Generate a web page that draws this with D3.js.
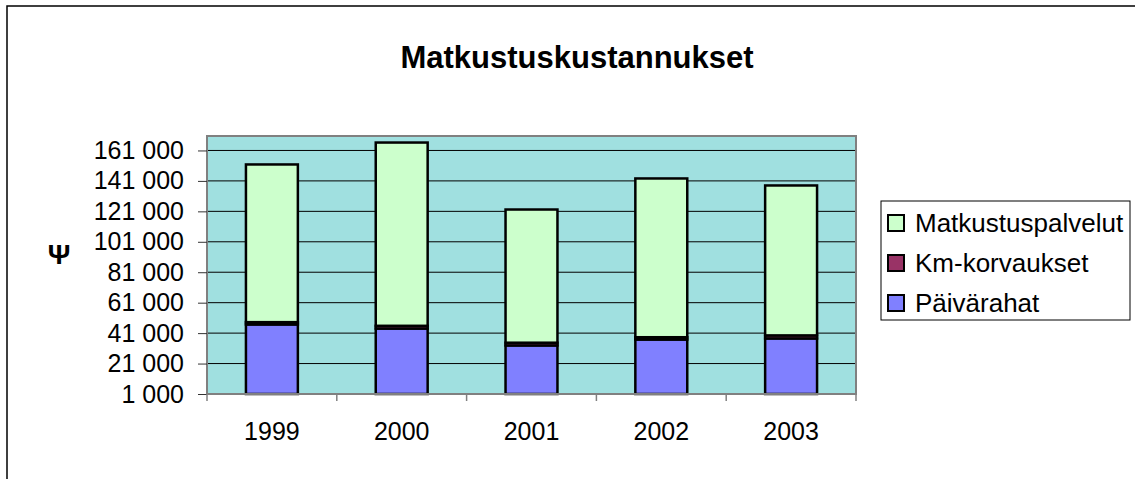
<!DOCTYPE html>
<html>
<head>
<meta charset="utf-8">
<script src="https://cdn.jsdelivr.net/npm/d3@7"></script>
<style>
  body { margin: 0; background: #fff; }
  svg { display: block; font-family: Arial, 'Liberation Sans', sans-serif; }
</style>
</head>
<body>
<svg width="1135" height="479"></svg>
<script>
const years = ['1999', '2000', '2001', '2002', '2003'];
const paivarahat = [46700, 44000, 32900, 36800, 37500];
const kmKorvaukset = [1500, 1800, 1800, 1500, 2000];
const matkustuspalvelut = [103600, 120400, 87500, 104300, 98500];
const yTicks = [1000, 21000, 41000, 61000, 81000, 101000, 121000, 141000, 161000];

const seriesNames = ['Päivärahat', 'Km-korvaukset', 'Matkustuspalvelut'];
const colors = { 'Päivärahat': '#8080ff', 'Km-korvaukset': '#993366', 'Matkustuspalvelut': '#ccffcc' };

const rows = years.map((y, i) => ({
  year: y,
  'Päivärahat': paivarahat[i],
  'Km-korvaukset': kmKorvaukset[i],
  'Matkustuspalvelut': matkustuspalvelut[i]
}));

const plot = { left: 207, right: 856, top: 136, bottom: 394 };
const svg = d3.select('svg');

// outer chart border
svg.append('rect')
  .attr('x', 7).attr('y', 6)
  .attr('width', 1140).attr('height', 490)
  .attr('fill', 'none').attr('stroke', '#000').attr('stroke-width', 1.5);

svg.append('text')
  .attr('x', 577).attr('y', 68)
  .attr('text-anchor', 'middle')
  .style('font-size', '31px').style('font-weight', 'bold')
  .text('Matkustuskustannukset');

const x = d3.scaleBand()
  .domain(years)
  .range([plot.left, plot.right])
  .paddingInner(0.6)
  .paddingOuter(0.3);

const y = d3.scaleLinear()
  .domain([1000, 170500])
  .range([plot.bottom, plot.top]);

svg.append('rect')
  .attr('x', plot.left).attr('y', plot.top)
  .attr('width', plot.right - plot.left).attr('height', plot.bottom - plot.top)
  .attr('fill', '#a0e0e0');

// gridlines
svg.append('g')
  .selectAll('line')
  .data(yTicks.slice(1))
  .join('line')
  .attr('x1', plot.left).attr('x2', plot.right)
  .attr('y1', d => y(d)).attr('y2', d => y(d))
  .attr('stroke', '#000').attr('stroke-width', 1);

const stacked = d3.stack().keys(seriesNames)(rows);

svg.append('g')
  .selectAll('g')
  .data(stacked)
  .join('g')
  .attr('fill', d => colors[d.key])
  .selectAll('rect')
  .data(d => d)
  .join('rect')
  .attr('x', d => x(d.data.year))
  .attr('width', x.bandwidth())
  .attr('y', d => y(d[1]))
  .attr('height', d => y(Math.max(d[0], y.domain()[0])) - y(d[1]))
  .attr('stroke', '#000')
  .attr('stroke-width', 2.5);

// plot border
svg.append('rect')
  .attr('x', plot.left).attr('y', plot.top)
  .attr('width', plot.right - plot.left).attr('height', plot.bottom - plot.top)
  .attr('fill', 'none').attr('stroke', '#808080').attr('stroke-width', 2);

// y axis
const yAxis = svg.append('g')
  .attr('transform', `translate(${plot.left},0)`)
  .call(d3.axisLeft(y)
    .tickValues(yTicks)
    .tickSize(9)
    .tickPadding(14)
    .tickFormat(d => d3.format(',')(d).replace(/,/g, ' ')));
yAxis.select('.domain').remove();
yAxis.selectAll('line').attr('stroke', '#333');
yAxis.selectAll('text')
  .style('font-size', '25px')
  .style('font-family', 'Arial, "Liberation Sans", sans-serif')
  .attr('fill', '#000');

// x axis: ticks at category boundaries
const step = x.step();
const boundaries = d3.range(years.length + 1).map(i => plot.left + i * step);
svg.append('g')
  .selectAll('line')
  .data(boundaries)
  .join('line')
  .attr('x1', d => d).attr('x2', d => d)
  .attr('y1', plot.bottom).attr('y2', plot.bottom + 7)
  .attr('stroke', '#808080').attr('stroke-width', 1.5);

svg.append('g')
  .selectAll('text')
  .data(years)
  .join('text')
  .attr('x', d => x(d) + x.bandwidth() / 2)
  .attr('y', 440)
  .attr('text-anchor', 'middle')
  .style('font-size', '25px')
  .text(d => d);

// y axis title (euro sign rendered as Symbol font glyph)
svg.append('text')
  .attr('x', 59).attr('y', 264)
  .attr('text-anchor', 'middle')
  .style('font-size', '28px').style('font-weight', 'bold')
  .text('Ψ');

// legend
const legend = svg.append('g');
legend.append('rect')
  .attr('x', 881).attr('y', 201)
  .attr('width', 249).attr('height', 119)
  .attr('fill', '#fff').attr('stroke', '#000').attr('stroke-width', 1);

const legendItems = seriesNames.slice().reverse();
legend.selectAll('g')
  .data(legendItems)
  .join('g')
  .attr('transform', (d, i) => `translate(888,${223 + i * 40})`)
  .each(function (d) {
    const g = d3.select(this);
    g.append('rect')
      .attr('x', 0).attr('y', -8)
      .attr('width', 16).attr('height', 16)
      .attr('fill', colors[d]).attr('stroke', '#000').attr('stroke-width', 2);
    g.append('text')
      .attr('x', 27).attr('y', 9)
      .style('font-size', '26px')
      .text(d);
  });
</script>
</body>
</html>
